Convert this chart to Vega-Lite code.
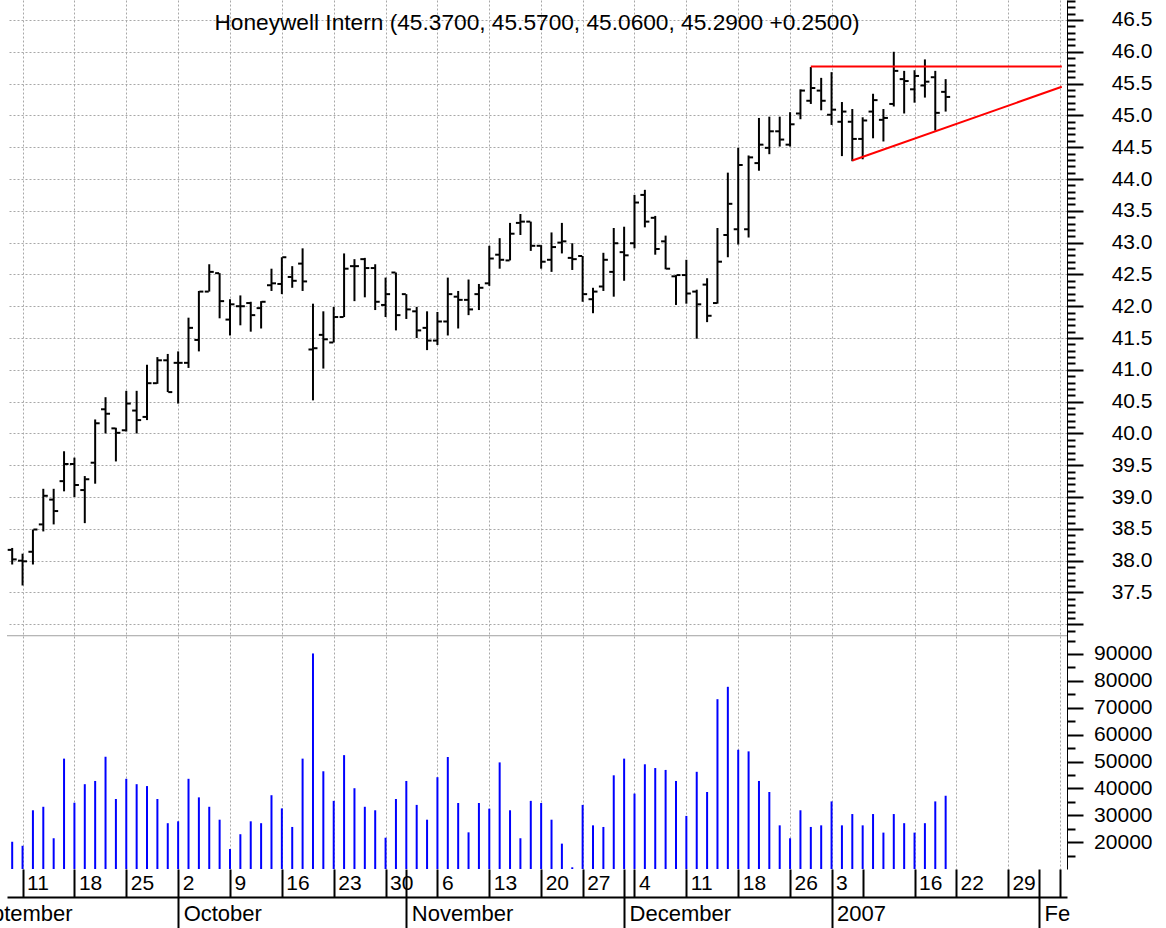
{
  "$schema": "https://vega.github.io/schema/vega-lite/v6.json",
  "width": 1060,
  "height": 869,
  "autosize": "none",
  "padding": {"left": 7, "top": 0, "right": 99, "bottom": 59},
  "background": "white",
  "config": {"view": {"stroke": null}, "font": "Liberation Sans"},
  "datasets": {
    "ohlc": [
      {"i":0,"date":"2006-09-08","o":38.17,"h":38.2,"l":37.94,"c":38.02,"v":20200},
      {"i":1,"date":"2006-09-11","o":38.0,"h":38.11,"l":37.61,"c":37.99,"v":18700},
      {"i":2,"date":"2006-09-12","o":38.14,"h":38.49,"l":37.94,"c":38.49,"v":31900},
      {"i":3,"date":"2006-09-13","o":38.57,"h":39.13,"l":38.46,"c":39.02,"v":33200},
      {"i":4,"date":"2006-09-14","o":38.96,"h":39.13,"l":38.57,"c":38.78,"v":21500},
      {"i":5,"date":"2006-09-15","o":39.25,"h":39.72,"l":39.09,"c":39.52,"v":51100},
      {"i":6,"date":"2006-09-18","o":39.52,"h":39.62,"l":39.0,"c":39.19,"v":34700},
      {"i":7,"date":"2006-09-19","o":39.11,"h":39.33,"l":38.59,"c":39.28,"v":41600},
      {"i":8,"date":"2006-09-20","o":39.54,"h":40.22,"l":39.21,"c":40.16,"v":42800},
      {"i":9,"date":"2006-09-21","o":40.38,"h":40.57,"l":40.0,"c":40.31,"v":51800},
      {"i":10,"date":"2006-09-22","o":40.08,"h":40.09,"l":39.56,"c":40.01,"v":36100},
      {"i":11,"date":"2006-09-25","o":40.05,"h":40.67,"l":40.03,"c":40.47,"v":43600},
      {"i":12,"date":"2006-09-26","o":40.36,"h":40.67,"l":40.0,"c":40.21,"v":41600},
      {"i":13,"date":"2006-09-27","o":40.26,"h":41.08,"l":40.21,"c":40.79,"v":40900},
      {"i":14,"date":"2006-09-28","o":40.79,"h":41.2,"l":40.78,"c":41.15,"v":36100},
      {"i":15,"date":"2006-09-29","o":41.15,"h":41.25,"l":40.65,"c":40.65,"v":27100},
      {"i":16,"date":"2006-10-02","o":41.11,"h":41.29,"l":40.47,"c":41.11,"v":27800},
      {"i":17,"date":"2006-10-03","o":41.11,"h":41.82,"l":41.03,"c":41.66,"v":43600},
      {"i":18,"date":"2006-10-04","o":41.47,"h":42.24,"l":41.29,"c":42.23,"v":36700},
      {"i":19,"date":"2006-10-05","o":42.23,"h":42.66,"l":42.23,"c":42.54,"v":33200},
      {"i":20,"date":"2006-10-06","o":42.52,"h":42.52,"l":41.81,"c":42.08,"v":28400},
      {"i":21,"date":"2006-10-09","o":41.79,"h":42.11,"l":41.54,"c":42.03,"v":17500},
      {"i":22,"date":"2006-10-10","o":42.0,"h":42.17,"l":41.7,"c":42.0,"v":23000},
      {"i":23,"date":"2006-10-11","o":42.05,"h":42.07,"l":41.6,"c":41.86,"v":27800},
      {"i":24,"date":"2006-10-12","o":41.97,"h":42.08,"l":41.65,"c":42.07,"v":27100},
      {"i":25,"date":"2006-10-13","o":42.33,"h":42.59,"l":42.24,"c":42.36,"v":37500},
      {"i":26,"date":"2006-10-16","o":42.35,"h":42.77,"l":42.19,"c":42.77,"v":32600},
      {"i":27,"date":"2006-10-17","o":42.46,"h":42.63,"l":42.29,"c":42.4,"v":25700},
      {"i":28,"date":"2006-10-18","o":42.67,"h":42.91,"l":42.24,"c":42.39,"v":51100},
      {"i":29,"date":"2006-10-19","o":41.32,"h":42.04,"l":40.52,"c":41.34,"v":90200},
      {"i":30,"date":"2006-10-20","o":41.55,"h":41.92,"l":41.02,"c":41.48,"v":46400},
      {"i":31,"date":"2006-10-23","o":41.43,"h":41.99,"l":41.43,"c":41.83,"v":35400},
      {"i":32,"date":"2006-10-24","o":41.83,"h":42.83,"l":41.83,"c":42.59,"v":52400},
      {"i":33,"date":"2006-10-25","o":42.63,"h":42.74,"l":42.08,"c":42.63,"v":40100},
      {"i":34,"date":"2006-10-26","o":42.74,"h":42.76,"l":42.14,"c":42.6,"v":33200},
      {"i":35,"date":"2006-10-27","o":42.6,"h":42.66,"l":41.94,"c":42.07,"v":31900},
      {"i":36,"date":"2006-10-30","o":42.02,"h":42.45,"l":41.83,"c":42.19,"v":21700},
      {"i":37,"date":"2006-10-31","o":42.53,"h":42.53,"l":41.62,"c":41.86,"v":36100},
      {"i":38,"date":"2006-11-01","o":42.19,"h":42.19,"l":41.8,"c":41.95,"v":42800},
      {"i":39,"date":"2006-11-02","o":41.92,"h":41.99,"l":41.5,"c":41.62,"v":33900},
      {"i":40,"date":"2006-11-03","o":41.66,"h":41.92,"l":41.31,"c":41.46,"v":28400},
      {"i":41,"date":"2006-11-06","o":41.46,"h":41.91,"l":41.39,"c":41.76,"v":44200},
      {"i":42,"date":"2006-11-07","o":41.76,"h":42.45,"l":41.54,"c":42.19,"v":51700},
      {"i":43,"date":"2006-11-08","o":42.15,"h":42.24,"l":41.65,"c":42.1,"v":34600},
      {"i":44,"date":"2006-11-09","o":42.1,"h":42.42,"l":41.86,"c":41.95,"v":23700},
      {"i":45,"date":"2006-11-10","o":42.19,"h":42.35,"l":41.94,"c":42.29,"v":34600},
      {"i":46,"date":"2006-11-13","o":42.36,"h":42.95,"l":42.32,"c":42.75,"v":32500},
      {"i":47,"date":"2006-11-14","o":42.81,"h":43.07,"l":42.59,"c":42.73,"v":49700},
      {"i":48,"date":"2006-11-15","o":42.72,"h":43.31,"l":42.72,"c":43.14,"v":31900},
      {"i":49,"date":"2006-11-16","o":43.31,"h":43.45,"l":43.12,"c":43.33,"v":21500},
      {"i":50,"date":"2006-11-17","o":43.33,"h":43.33,"l":42.87,"c":42.95,"v":35400},
      {"i":51,"date":"2006-11-20","o":42.95,"h":42.96,"l":42.59,"c":42.7,"v":34600},
      {"i":52,"date":"2006-11-21","o":42.73,"h":43.16,"l":42.54,"c":42.93,"v":28400},
      {"i":53,"date":"2006-11-22","o":43.0,"h":43.31,"l":42.83,"c":43.02,"v":19500},
      {"i":54,"date":"2006-11-24","o":42.76,"h":42.99,"l":42.57,"c":42.74,"v":10700},
      {"i":55,"date":"2006-11-27","o":42.79,"h":42.79,"l":42.07,"c":42.19,"v":33900},
      {"i":56,"date":"2006-11-28","o":42.11,"h":42.29,"l":41.89,"c":42.23,"v":26300},
      {"i":57,"date":"2006-11-29","o":42.31,"h":42.84,"l":42.24,"c":42.73,"v":25700},
      {"i":58,"date":"2006-11-30","o":42.54,"h":43.23,"l":42.15,"c":42.99,"v":44900},
      {"i":59,"date":"2006-12-01","o":42.85,"h":43.25,"l":42.4,"c":42.8,"v":51100},
      {"i":60,"date":"2006-12-04","o":42.99,"h":43.75,"l":42.91,"c":43.63,"v":38100},
      {"i":61,"date":"2006-12-05","o":43.75,"h":43.83,"l":43.24,"c":43.33,"v":49000},
      {"i":62,"date":"2006-12-06","o":43.39,"h":43.42,"l":42.81,"c":42.9,"v":47600},
      {"i":63,"date":"2006-12-07","o":43.02,"h":43.11,"l":42.58,"c":42.59,"v":46900},
      {"i":64,"date":"2006-12-08","o":42.47,"h":42.49,"l":42.02,"c":42.49,"v":42800},
      {"i":65,"date":"2006-12-11","o":42.49,"h":42.73,"l":42.04,"c":42.2,"v":29800},
      {"i":66,"date":"2006-12-12","o":42.23,"h":42.26,"l":41.49,"c":42.03,"v":46200},
      {"i":67,"date":"2006-12-13","o":42.34,"h":42.44,"l":41.75,"c":41.85,"v":38700},
      {"i":68,"date":"2006-12-14","o":42.05,"h":43.23,"l":42.04,"c":42.7,"v":73200},
      {"i":69,"date":"2006-12-15","o":43.12,"h":44.1,"l":42.77,"c":43.61,"v":77800},
      {"i":70,"date":"2006-12-18","o":43.21,"h":44.49,"l":42.97,"c":44.22,"v":54400},
      {"i":71,"date":"2006-12-19","o":43.21,"h":44.37,"l":43.08,"c":44.34,"v":53800},
      {"i":72,"date":"2006-12-20","o":44.25,"h":44.96,"l":44.13,"c":44.54,"v":42800},
      {"i":73,"date":"2006-12-21","o":44.49,"h":44.98,"l":44.39,"c":44.75,"v":38700},
      {"i":74,"date":"2006-12-22","o":44.75,"h":44.98,"l":44.51,"c":44.62,"v":26300},
      {"i":75,"date":"2006-12-26","o":44.54,"h":45.05,"l":44.51,"c":44.86,"v":21500},
      {"i":76,"date":"2006-12-27","o":45.03,"h":45.41,"l":44.94,"c":45.39,"v":31900},
      {"i":77,"date":"2006-12-28","o":45.23,"h":45.76,"l":45.18,"c":45.43,"v":25700},
      {"i":78,"date":"2006-12-29","o":45.39,"h":45.59,"l":45.08,"c":45.23,"v":26300},
      {"i":79,"date":"2007-01-03","o":45.01,"h":45.68,"l":44.85,"c":45.09,"v":35200},
      {"i":80,"date":"2007-01-04","o":44.9,"h":45.21,"l":44.36,"c":45.06,"v":26300},
      {"i":81,"date":"2007-01-05","o":44.9,"h":45.1,"l":44.28,"c":44.63,"v":30500},
      {"i":82,"date":"2007-01-08","o":44.63,"h":44.97,"l":44.31,"c":44.92,"v":26300},
      {"i":83,"date":"2007-01-09","o":45.06,"h":45.34,"l":44.64,"c":45.24,"v":30500},
      {"i":84,"date":"2007-01-10","o":44.93,"h":45.1,"l":44.59,"c":44.96,"v":23600},
      {"i":85,"date":"2007-01-11","o":45.18,"h":46.0,"l":45.14,"c":45.7,"v":30500},
      {"i":86,"date":"2007-01-12","o":45.57,"h":45.7,"l":45.03,"c":45.54,"v":27100},
      {"i":87,"date":"2007-01-16","o":45.41,"h":45.71,"l":45.2,"c":45.62,"v":23600},
      {"i":88,"date":"2007-01-17","o":45.47,"h":45.88,"l":45.28,"c":45.53,"v":27100},
      {"i":89,"date":"2007-01-18","o":45.6,"h":45.7,"l":44.76,"c":45.04,"v":35200},
      {"i":90,"date":"2007-01-19","o":45.37,"h":45.57,"l":45.06,"c":45.29,"v":37300}
    ],
    "lines": [
      {"seg":"resistance","i":77,"p":45.77},
      {"seg":"resistance","i":101.2,"p":45.77},
      {"seg":"support","i":81,"p":44.29},
      {"seg":"support","i":101.2,"p":45.45}
    ],
    "caption": [
      {"label": "Honeywell Intern (45.3700, 45.5700, 45.0600, 45.2900 +0.2500)"}
    ]
  },
  "resolve": {"scale": {"y": "independent"}, "axis": {"x": "independent", "y": "independent"}},
  "layer": [
    {
      "data": {"name": "ohlc"},
      "mark": {"type": "rule", "color": "black", "strokeWidth": 2},
      "encoding": {
        "x": {"field": "i", "type": "quantitative", "scale": {"domain": [-0.5, 101.7], "nice": false, "zero": false},
          "axis": {"orient": "bottom", "title": null,
            "values": [1,6,11,16,21,26,31,36,38,41,46,51,55,59,60,65,70,75,79,82,87,91,96,99,101],
            "labelExpr": "({'1':'11','6':'18','11':'25','16':'2','21':'9','26':'16','31':'23','36':'30','41':'6','46':'13','51':'20','55':'27','60':'4','65':'11','70':'18','75':'26','79':'3','87':'16','91':'22','96':'29'})[datum.value] || ''",
            "domain": false, "ticks": true, "tickSize": 28, "tickWidth": 2, "tickColor": "black",
            "labelAlign": "left", "labelBaseline": "middle", "labelPadding": -14, "labelOffset": 4,
            "labelFontSize": 21, "labelColor": "black", "labelFont": "Liberation Sans", "labelOverlap": false, "labelFlush": false,
            "grid": true, "gridDash": [2, 2], "gridColor": "#a8a8a8", "gridWidth": 1,
            "gridOpacity": {"condition": {"test": "indexof([38,59,82,99], datum.value) >= 0", "value": 0}, "value": 1}}},
        "y": {"field": "l", "type": "quantitative", "scale": {"domain": [33.153, 46.814], "nice": false, "zero": false},
          "axis": {"orient": "right", "title": null,
            "values": [36.9,37,37.1,37.2,37.3,37.4,37.5,37.6,37.7,37.8,37.9,38,38.1,38.2,38.3,38.4,38.5,38.6,38.7,38.8,38.9,39,39.1,39.2,39.3,39.4,39.5,39.6,39.7,39.8,39.9,40,40.1,40.2,40.3,40.4,40.5,40.6,40.7,40.8,40.9,41,41.1,41.2,41.3,41.4,41.5,41.6,41.7,41.8,41.9,42,42.1,42.2,42.3,42.4,42.5,42.6,42.7,42.8,42.9,43,43.1,43.2,43.3,43.4,43.5,43.6,43.7,43.8,43.9,44,44.1,44.2,44.3,44.4,44.5,44.6,44.7,44.8,44.9,45,45.1,45.2,45.3,45.4,45.5,45.6,45.7,45.8,45.9,46,46.1,46.2,46.3,46.4,46.5,46.6,46.7,46.8],
            "labelExpr": "abs(datum.value*2 - round(datum.value*2)) < 0.01 && datum.value > 37.2 ? format(datum.value, '.1f') : ''",
            "domain": true, "domainColor": "black", "domainWidth": 1,
            "tickColor": "black", "tickWidth": 2,
            "tickSize": {"condition": {"test": "abs(datum.value*2 - round(datum.value*2)) < 0.01", "value": 16}, "value": 8},
            "labelAlign": "right", "labelBaseline": "middle", "labelPadding": 69,
            "labelFontSize": 21, "labelColor": "black", "labelFont": "Liberation Sans", "labelOverlap": false, "labelFlush": false,
            "grid": true, "gridDash": [2, 2], "gridColor": "#a8a8a8", "gridWidth": 1,
            "gridOpacity": {"condition": {"test": "abs(datum.value*2 - round(datum.value*2)) < 0.01", "value": 1}, "value": 0}}},
        "y2": {"field": "h"}
      }
    },
    {
      "data": {"name": "ohlc"},
      "mark": {"type": "tick", "orient": "horizontal", "color": "black", "size": 4, "thickness": 2, "xOffset": -2.5, "opacity": 1},
      "encoding": {
        "x": {"field": "i", "type": "quantitative", "scale": {"domain": [-0.5, 101.7], "nice": false, "zero": false}, "axis": null},
        "y": {"field": "o", "type": "quantitative", "scale": {"domain": [33.153, 46.814], "nice": false, "zero": false}, "axis": null}
      }
    },
    {
      "data": {"name": "ohlc"},
      "mark": {"type": "tick", "orient": "horizontal", "color": "black", "size": 4, "thickness": 2, "xOffset": 2.5, "opacity": 1},
      "encoding": {
        "x": {"field": "i", "type": "quantitative", "scale": {"domain": [-0.5, 101.7], "nice": false, "zero": false}, "axis": null},
        "y": {"field": "c", "type": "quantitative", "scale": {"domain": [33.153, 46.814], "nice": false, "zero": false}, "axis": null}
      }
    },
    {
      "data": {"name": "ohlc"},
      "mark": {"type": "rule", "color": "#0000ff", "strokeWidth": 2},
      "encoding": {
        "x": {"field": "i", "type": "quantitative", "scale": {"domain": [-0.5, 101.7], "nice": false, "zero": false},
          "axis": {"orient": "bottom", "title": null, "offset": 28,
            "values": [-0.45, 16, 38, 59, 79, 99],
            "labelExpr": "({'-0.45':'September','16':'October','38':'November','59':'December','79':'2007','99':'Fe'})[datum.value] || ''",
            "domain": true, "domainColor": "black", "domainWidth": 2,
            "ticks": true, "tickSize": 31, "tickWidth": 2, "tickColor": "black",
            "tickOpacity": {"condition": {"test": "datum.value < 0", "value": 0}, "value": 1},
            "labelAlign": "left", "labelBaseline": "middle", "labelPadding": -15,
            "labelOffset": {"condition": {"test": "datum.value < 0", "value": -43}, "value": 5},
            "labelFontSize": 22, "labelColor": "black", "labelFont": "Liberation Sans", "labelOverlap": false, "labelFlush": false,
            "grid": false}},
        "y": {"field": "v", "type": "quantitative", "scale": {"domain": [10070, 333120], "nice": false, "zero": false},
          "axis": {"orient": "right", "title": null,
            "values": [15000,20000,25000,30000,35000,40000,45000,50000,55000,60000,65000,70000,75000,80000,85000,90000,95000],
            "labelExpr": "datum.value % 10000 == 0 ? format(datum.value, 'd') : ''",
            "domain": false, "tickColor": "black", "tickWidth": 2,
            "tickSize": {"condition": {"test": "datum.value % 10000 == 0", "value": 16}, "value": 8},
            "labelAlign": "right", "labelBaseline": "middle", "labelPadding": 69,
            "labelFontSize": 21, "labelColor": "black", "labelFont": "Liberation Sans", "labelOverlap": false, "labelFlush": false,
            "grid": false}},
        "y2": {"datum": 10070}
      }
    },
    {
      "data": {"name": "lines"},
      "mark": {"type": "line", "color": "#ff0000", "strokeWidth": 2},
      "encoding": {
        "x": {"field": "i", "type": "quantitative", "scale": {"domain": [-0.5, 101.7], "nice": false, "zero": false}, "axis": null},
        "y": {"field": "p", "type": "quantitative", "scale": {"domain": [33.153, 46.814], "nice": false, "zero": false}, "axis": null},
        "detail": {"field": "seg"}
      }
    },
    {
      "data": {"values": [{"panel": "separator"}]},
      "mark": {"type": "rule", "color": "#a0a0a0", "strokeWidth": 1},
      "encoding": {
        "y": {"datum": 36.82, "type": "quantitative", "scale": {"domain": [33.153, 46.814], "nice": false, "zero": false}, "axis": null}
      }
    },
    {
      "data": {"name": "caption"},
      "mark": {"type": "text", "fontSize": 22.7, "font": "Liberation Sans", "color": "black", "align": "center", "baseline": "alphabetic"},
      "encoding": {
        "text": {"field": "label"},
        "x": {"datum": 50.6, "type": "quantitative", "scale": {"domain": [-0.5, 101.7], "nice": false, "zero": false}, "axis": null},
        "y": {"datum": 46.345, "type": "quantitative", "scale": {"domain": [33.153, 46.814], "nice": false, "zero": false}, "axis": null}
      }
    }
  ]
}
